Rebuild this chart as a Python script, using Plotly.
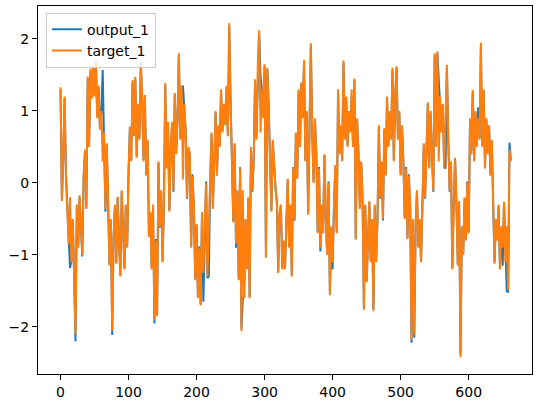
import plotly.graph_objects as go

# x positions (every 2 samples)
x_values = list(range(0, 664, 2))

target_1 = [
    1.33, -0.25, 0.35, 1.20, 0.10, -0.30, -0.85, -0.20, -1.10, -0.50,
    -1.30, -2.10, -0.30, -0.90, -0.17, -0.60, -1.00, 0.10, 0.46, -0.36,
    1.48, 0.50, 1.59, 1.17, 1.63, 1.20, 1.70, 0.90, 1.35, 0.74,
    1.00, 0.30, 0.70, -0.36, 0.55, -0.20, -1.15, -0.50, -2.05, -0.75,
    -0.30, -1.12, -0.19, -0.80, -1.30, -0.10, -0.60, -1.20, -0.30, -0.90,
    0.13, 0.78, 0.30, 1.43, 0.65, 1.47, 0.35, 1.10, 0.60, 1.68,
    1.20, 0.30, 1.22, 0.10, 0.60, -0.75, -0.40, -1.20, -0.30, -1.90,
    -0.80, -1.85, 0.30, -0.60, -0.10, -1.10, -0.30, 1.39, 0.20, 0.85,
    -0.40, 0.50, 0.85, -0.10, 1.25, 0.40, 0.90, 1.80, 0.60, 1.35,
    0.05, 1.10, 0.70, -0.20, 0.50, 0.40, -0.90, 0.10, -0.30, -1.35,
    -0.57, -1.60, -0.90, -1.70, -0.40, -1.25, -0.60, 0.00, -1.30, -0.50,
    0.00, 0.70, -0.36, 0.40, 1.00, 0.10, 0.80, 0.50, 1.30, 0.70,
    1.10, 0.80, 1.35, 0.65, 2.22, 1.15, 0.20, -0.55, 0.55, -0.84,
    -0.10, -1.35, 0.20, -2.06, -0.10, -1.60, -0.50, -1.20, -0.20, -1.60,
    0.50, -0.10, 0.30, 1.44, 0.60, 1.65, 2.12, 0.70, 1.30, 0.90,
    1.65, -1.04, 1.60, 1.10, 0.30, -0.40, 0.60, 0.20, -0.05, -0.25,
    -1.25, -0.40, -0.30, -1.20, -0.80, -1.20, -0.50, 0.06, -0.90, -0.30,
    -1.30, 0.20, -0.50, 0.70, 0.06, 1.30, 0.50, 1.40, 0.90, 1.71,
    0.30, 1.00, -0.44, 1.20, 1.94, 0.70, 0.00, 0.90, 0.40, -0.70,
    0.20, -0.90, -0.30, -0.70, 0.40, -0.50, -1.00, 0.00, -1.56, -0.60,
    -1.10, -0.30, 0.25, -0.70, 1.30, 0.40, 0.80, 0.30, 1.70, 0.60,
    1.20, 0.50, 1.00, 0.70, 1.30, 0.50, 1.45, -0.79, 0.90, 0.40,
    -0.36, 0.30, -0.20, -1.76, -0.30, -1.38, -0.60, -0.25, -1.10, -0.50,
    -1.78, -0.30, -1.10, -0.50, 0.80, -0.20, 0.30, -0.50, 0.76, 0.10,
    1.20, 0.50, 1.00, 0.60, 1.60, 0.30, 1.20, 1.62, 0.60, 1.00,
    0.10, 0.80, 0.30, -0.50, 0.20, -0.78, 0.10, -0.30, -2.18, -0.50,
    -2.10, -0.60, -0.10, -0.90, -0.50, -1.10, -0.30, 0.55, -0.20, 0.70,
    1.12, 0.20, 1.00, 0.40, -0.10, 1.80, 0.50, 1.83, 0.30, 1.20,
    0.70, 1.10, 0.20, 0.90, 1.64, 0.60, -0.10, 0.30, -1.20, -0.30,
    0.35, -0.25, -1.15, -0.25, -2.42, -0.60, -1.00, -0.20, -0.80, 0.00,
    -0.70, 0.90, 0.40, 1.29, 0.30, 1.00, 0.50, 0.90, 0.60, 1.95,
    0.50, 1.30, 0.20, 0.90, 0.40, 0.80, 0.10, 0.60, -0.10, -1.12,
    -0.50, -0.80, -0.30, -1.20, -0.60, -0.90, -0.26, -1.10, -0.60, -1.49,
    0.46, 0.30,
]

output_1 = [
    1.30, -0.22, 0.33, 1.18, 0.12, -0.28, -0.83, -1.18, -1.08, -0.52,
    -1.28, -2.20, -0.32, -0.88, -0.20, -0.58, -1.02, 0.08, 0.44, -0.34,
    1.45, 0.52, 1.56, 1.19, 1.60, 1.22, 1.67, 0.92, 1.33, 0.76,
    0.98, 1.57, 0.68, -0.40, 0.53, -0.22, -1.13, -0.52, -2.11, -0.73,
    -0.32, -1.10, -0.21, -0.78, -1.28, -0.12, -0.58, -1.18, -0.32, -0.88,
    0.15, 0.78, 0.32, 1.40, 0.67, 1.44, 0.37, 1.08, 0.62, 1.65,
    1.18, 0.32, 1.20, 0.12, 0.58, -0.73, -0.42, -1.18, -0.32, -1.95,
    -0.78, -1.83, 0.28, -0.62, -0.12, -1.08, -0.32, 1.36, 0.22, 0.83,
    -0.38, 0.48, 0.83, -0.12, 1.23, 0.42, 0.88, 1.77, 0.62, 1.33,
    1.35, 1.08, 0.72, -0.22, 0.48, 0.42, -0.88, 0.12, -0.32, -1.33,
    -0.59, -1.58, -0.88, -1.68, -0.42, -1.65, -0.58, 0.02, -1.32, -1.30,
    0.02, 0.68, -0.34, 0.42, 0.98, 0.12, 0.78, 0.52, 1.28, 0.72,
    1.08, 0.82, 1.33, 0.67, 2.18, 1.13, 0.22, -0.53, 0.53, -0.90,
    -0.12, -1.33, 0.22, -2.02, -1.60, -1.58, -0.52, -1.18, -0.22, -1.58,
    0.48, -0.12, 0.32, 1.42, 0.62, 1.62, 2.08, 1.50, 1.28, 0.92,
    1.62, -1.02, 1.58, 1.08, 0.32, -0.38, 0.58, 0.22, -0.07, -0.27,
    -1.23, -0.42, -0.32, -1.18, -0.82, -1.18, -0.52, 0.04, -0.88, -0.32,
    -1.28, 0.22, -0.52, 0.68, 0.08, 1.28, 0.52, 1.38, 0.92, 1.68,
    0.32, 0.98, -0.42, 1.18, 1.90, 0.72, 0.02, 0.88, 0.42, -0.68,
    0.22, -0.95, -0.32, -0.68, 0.38, -0.52, -0.98, 0.02, -1.52, -0.62,
    -1.20, -0.32, 0.23, -0.68, 1.28, 0.42, 0.78, 0.32, 1.67, 0.62,
    1.18, 0.52, 0.98, 0.72, 1.20, 0.52, 1.43, -0.77, 0.88, 0.42,
    -0.34, 0.28, -0.22, -1.74, -0.32, -1.36, -0.62, -0.27, -1.08, -0.52,
    -1.75, -0.32, -1.08, -0.52, 0.78, -0.22, 0.28, -0.52, 0.74, 0.12,
    1.18, 0.52, 0.98, 0.62, 1.57, 0.32, 1.18, 1.60, 0.62, 0.98,
    0.12, 0.78, 0.32, -0.48, 0.22, -0.76, 0.12, -0.32, -2.22, -0.52,
    -2.15, -0.58, -0.12, -0.88, -0.52, -1.08, -0.32, 0.53, -0.22, 0.68,
    1.10, 0.22, 0.98, 0.42, -0.12, 1.77, 0.52, 1.80, 1.45, 1.18,
    0.72, 1.08, 0.22, 0.20, 1.60, 0.62, -0.12, 0.28, -1.18, -0.32,
    0.33, -0.27, -1.13, -0.27, -2.38, -0.62, -0.98, -0.22, -0.78, 0.02,
    -0.68, 0.88, 0.45, 1.27, 0.32, 0.98, 0.52, 1.05, 0.62, 1.90,
    0.52, 1.28, 0.22, 0.88, 0.42, 0.78, 0.12, 0.58, -0.12, -1.10,
    -0.52, -0.78, -0.32, -1.18, -0.62, -1.15, -0.28, -1.08, -1.50, -1.52,
    0.56, 0.32,
]

x_ticks = [0, 100, 200, 300, 400, 500, 600]
x_tick_text = ["0", "100", "200", "300", "400", "500", "600"]
y_ticks = [-2, -1, 0, 1, 2]
y_tick_text = ["\u22122", "\u22121", "0", "1", "2"]

n = min(len(x_values), len(target_1), len(output_1))
xs = x_values[:n]

font = dict(family="DejaVu Sans", size=14, color="black")

fig = go.Figure()
fig.add_trace(go.Scatter(x=xs, y=output_1[:n], mode="lines", name="output_1",
                         line=dict(color="#1f77b4", width=2)))
fig.add_trace(go.Scatter(x=xs, y=target_1[:n], mode="lines", name="target_1",
                         line=dict(color="#ff7f0e", width=2)))

axis_common = dict(showgrid=False, zeroline=False, showline=True, linecolor="black",
                   linewidth=1.1, mirror=True, ticks="outside", ticklen=5, tickwidth=1.1,
                   tickcolor="black", tickfont=font, automargin=False)

fig.update_layout(
    width=541, height=405, autosize=False,
    margin=dict(l=38, r=9, t=6, b=31, pad=0),
    plot_bgcolor="white", paper_bgcolor="white",
    font=font,
    xaxis=dict(range=[-33.1, 693.1], tickvals=x_ticks, ticktext=x_tick_text, **axis_common),
    yaxis=dict(range=[-2.653, 2.458], tickvals=y_ticks, ticktext=y_tick_text, **axis_common),
    legend=dict(x=0.016, y=0.982, xanchor="left", yanchor="top",
                bgcolor="rgba(255,255,255,0.8)", bordercolor="#cccccc", borderwidth=1,
                font=font, itemwidth=30, tracegroupgap=4),
    showlegend=True,
)

fig.write_html("out.html", config={"displayModeBar": False},
               post_script="document.body.style.margin='0';document.body.style.padding='0';")
